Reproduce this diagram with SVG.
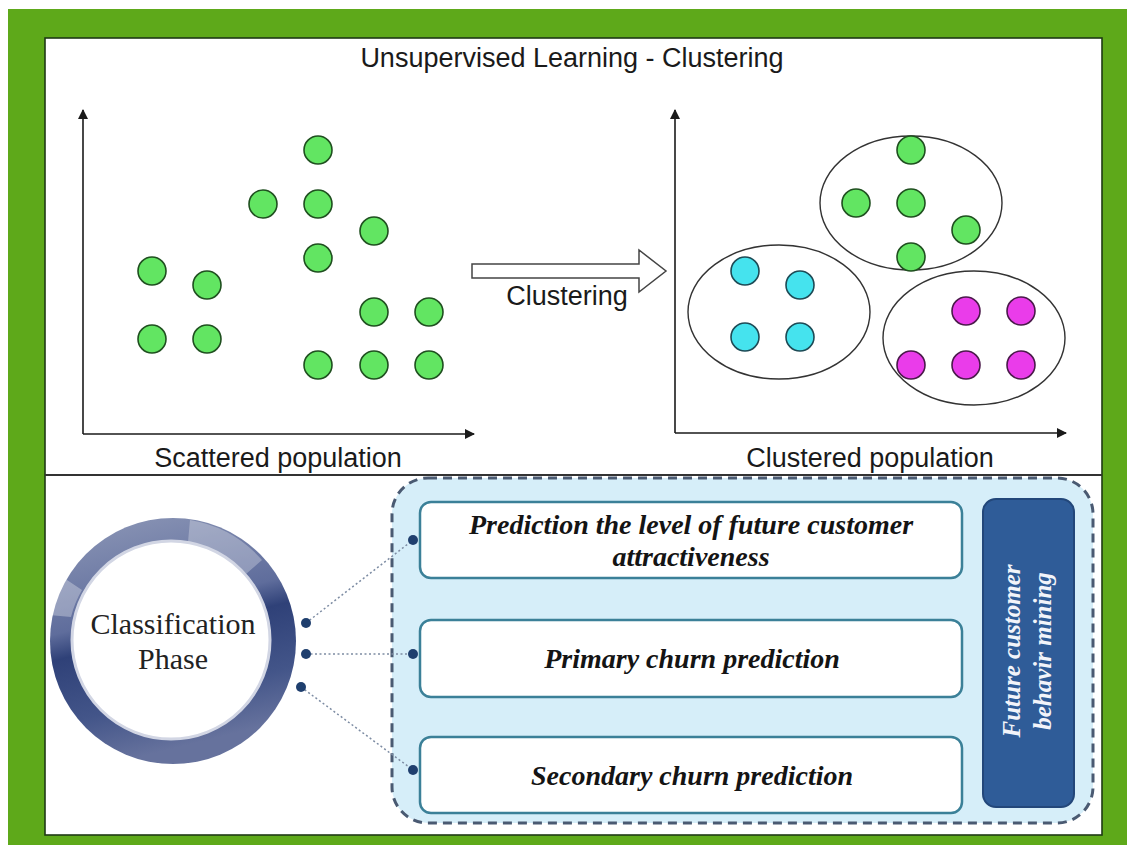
<svg xmlns="http://www.w3.org/2000/svg" width="1127" height="845" viewBox="0 0 1127 845">
  <defs>
    <style>
      .sans { font-family: "Liberation Sans", Arial, sans-serif; fill: #1a1a1a; }
      .axis { stroke: #1a1a1a; stroke-width: 1.6; fill: none; }
      .dot-g { fill: #62e562; stroke: #1f4f1f; stroke-width: 1.6; }
      .dot-c { fill: #45e3ee; stroke: #1d4a55; stroke-width: 1.6; }
      .dot-m { fill: #ea3cea; stroke: #4a1a4a; stroke-width: 1.6; }
      .cluster { fill: none; stroke: #333; stroke-width: 1.4; }
      .task { fill: #ffffff; stroke: #3b8098; stroke-width: 2.5; }
      .task-text { font-family: "Liberation Serif", "Times New Roman", serif; font-weight: bold; font-style: italic; font-size: 28px; fill: #141414; text-anchor: middle; }
      .pin { fill: #1f3f6e; }
      .link { stroke: #7d8ca3; stroke-width: 1.5; stroke-dasharray: 2 2.5; fill: none; }
    </style>
    <marker id="arrowhead" viewBox="0 0 10 10" refX="9" refY="5" markerWidth="10" markerHeight="10" markerUnits="userSpaceOnUse" orient="auto">
      <path d="M0,0 L10,5 L0,10 Z" fill="#1a1a1a"/>
    </marker>
    <linearGradient id="ringGrad" x1="0" y1="0" x2="0.25" y2="1">
      <stop offset="0" stop-color="#8f99b8"/>
      <stop offset="0.45" stop-color="#5f6d9c"/>
      <stop offset="0.55" stop-color="#2f4178"/>
      <stop offset="0.8" stop-color="#435589"/>
      <stop offset="1" stop-color="#66729d"/>
    </linearGradient>
  </defs>

  <!-- frame -->
  <rect x="8" y="9" width="1119" height="836" fill="#5ea91a"/>
  <rect x="45" y="38" width="1057" height="797" fill="#ffffff" stroke="#1f3a14" stroke-width="1.6"/>
  <line x1="45" y1="475" x2="1102" y2="475" stroke="#333" stroke-width="2"/>

  <!-- upper panel: clustering -->
  <g id="title">
    <text class="sans" x="572" y="67" font-size="27" text-anchor="middle">Unsupervised Learning - Clustering</text>
  </g>

  <g id="scatter-plot">
    <line class="axis" x1="83" y1="434" x2="83" y2="110" marker-end="url(#arrowhead)"/>
    <line class="axis" x1="83" y1="434" x2="474" y2="434" marker-end="url(#arrowhead)"/>
    <circle class="dot-g" cx="152" cy="271" r="14"/>
    <circle class="dot-g" cx="207" cy="285" r="14"/>
    <circle class="dot-g" cx="152" cy="339" r="14"/>
    <circle class="dot-g" cx="207" cy="339" r="14"/>
    <circle class="dot-g" cx="263" cy="204" r="14"/>
    <circle class="dot-g" cx="318" cy="150" r="14"/>
    <circle class="dot-g" cx="318" cy="204" r="14"/>
    <circle class="dot-g" cx="318" cy="258" r="14"/>
    <circle class="dot-g" cx="374" cy="231" r="14"/>
    <circle class="dot-g" cx="374" cy="312" r="14"/>
    <circle class="dot-g" cx="429" cy="312" r="14"/>
    <circle class="dot-g" cx="318" cy="365" r="14"/>
    <circle class="dot-g" cx="374" cy="365" r="14"/>
    <circle class="dot-g" cx="429" cy="365" r="14"/>
    <text class="sans" x="278" y="467" font-size="27" text-anchor="middle">Scattered population</text>
  </g>

  <g id="clustering-arrow">
    <path d="M472,264 L639,264 L639,250 L666,271 L639,292 L639,278 L472,278 Z" fill="#ffffff" stroke="#444" stroke-width="1.5"/>
    <text class="sans" x="567" y="305" font-size="27" text-anchor="middle">Clustering</text>
  </g>

  <g id="cluster-plot">
    <line class="axis" x1="675" y1="433" x2="675" y2="110" marker-end="url(#arrowhead)"/>
    <line class="axis" x1="675" y1="433" x2="1066" y2="433" marker-end="url(#arrowhead)"/>
    <ellipse class="cluster" cx="911" cy="203" rx="91" ry="67"/>
    <ellipse class="cluster" cx="779" cy="312" rx="91" ry="67"/>
    <ellipse class="cluster" cx="974" cy="338" rx="91" ry="67"/>
    <circle class="dot-g" cx="911" cy="150" r="14"/>
    <circle class="dot-g" cx="856" cy="203" r="14"/>
    <circle class="dot-g" cx="911" cy="203" r="14"/>
    <circle class="dot-g" cx="966" cy="230" r="14"/>
    <circle class="dot-g" cx="911" cy="257" r="14"/>
    <circle class="dot-c" cx="745" cy="271" r="14"/>
    <circle class="dot-c" cx="800" cy="285" r="14"/>
    <circle class="dot-c" cx="745" cy="337" r="14"/>
    <circle class="dot-c" cx="800" cy="337" r="14"/>
    <circle class="dot-m" cx="966" cy="311" r="14"/>
    <circle class="dot-m" cx="1021" cy="311" r="14"/>
    <circle class="dot-m" cx="911" cy="365" r="14"/>
    <circle class="dot-m" cx="966" cy="365" r="14"/>
    <circle class="dot-m" cx="1021" cy="365" r="14"/>
    <text class="sans" x="870" y="467" font-size="27" text-anchor="middle">Clustered population</text>
  </g>

  <!-- lower panel: classification -->
  <g id="mining-container">
    <rect x="392" y="478" width="701" height="345" rx="36" ry="36" fill="#d6eef9" stroke="#4a5a72" stroke-width="3" stroke-dasharray="9 6"/>
  </g>

  <g id="classification-phase">
    <circle cx="173" cy="641" r="123" fill="url(#ringGrad)"/>
    <path d="M190,520 A122,122 0 0 1 262,560 L246,574 A100,100 0 0 0 188,542 Z" fill="#ffffff" opacity="0.28"/>
    <path d="M49,615 A124,124 0 0 1 64,578 L82,590 A100,100 0 0 0 71,617 Z" fill="#ffffff" opacity="0.3"/>
    <circle cx="171" cy="640" r="99" fill="#ffffff" stroke="#d2d6e4" stroke-width="3"/>
    <text x="173" y="634" font-family="'Liberation Serif', 'Times New Roman', serif" font-size="30" fill="#222" text-anchor="middle">Classification</text>
    <text x="173" y="669" font-family="'Liberation Serif', 'Times New Roman', serif" font-size="30" fill="#222" text-anchor="middle">Phase</text>
  </g>

  <g id="connectors">
    <line class="link" x1="306" y1="623" x2="413" y2="540"/>
    <line class="link" x1="306" y1="654" x2="413" y2="654"/>
    <line class="link" x1="301" y1="687" x2="413" y2="770"/>
    <circle class="pin" cx="306" cy="623" r="5"/>
    <circle class="pin" cx="306" cy="654" r="5"/>
    <circle class="pin" cx="301" cy="687" r="5"/>
    <circle class="pin" cx="413" cy="540" r="5"/>
    <circle class="pin" cx="413" cy="654" r="5"/>
    <circle class="pin" cx="413" cy="770" r="5"/>
  </g>

  <g id="task-attractiveness">
    <rect class="task" x="420" y="502" width="542" height="76" rx="11" ry="11"/>
    <text class="task-text" x="691" y="534">Prediction the level of future customer</text>
    <text class="task-text" x="691" y="566">attractiveness</text>
  </g>

  <g id="task-primary-churn">
    <rect class="task" x="420" y="620" width="542" height="77" rx="11" ry="11"/>
    <text class="task-text" x="692" y="668">Primary churn prediction</text>
  </g>

  <g id="task-secondary-churn">
    <rect class="task" x="420" y="737" width="542" height="76" rx="11" ry="11"/>
    <text class="task-text" x="692" y="785">Secondary churn prediction</text>
  </g>

  <g id="behavior-mining">
    <rect x="983" y="499" width="91" height="308" rx="13" ry="13" fill="#2f5c98" stroke="#23477a" stroke-width="2"/>
    <g transform="translate(1028,651) rotate(-90)" font-family="'Liberation Serif', 'Times New Roman', serif" font-weight="bold" font-style="italic" font-size="25" fill="#f2f4fa" text-anchor="middle">
      <text x="0" y="-8">Future customer</text>
      <text x="0" y="23">behavir mining</text>
    </g>
  </g>
</svg>
